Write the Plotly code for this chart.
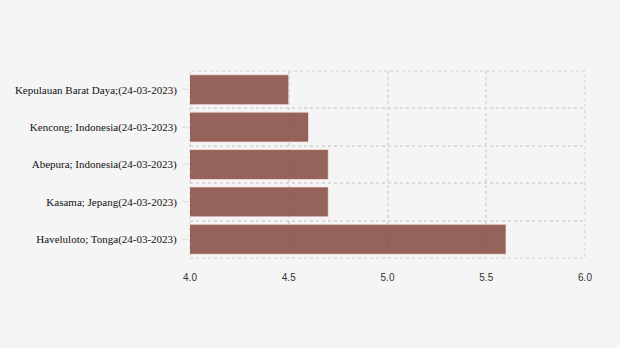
import plotly.graph_objects as go

categories = [
    "Haveluloto; Tonga(24-03-2023)",
    "Kasama; Jepang(24-03-2023)",
    "Abepura; Indonesia(24-03-2023)",
    "Kencong; Indonesia(24-03-2023)",
    "Kepulauan Barat Daya;(24-03-2023)",
]
values = [5.6, 4.7, 4.7, 4.6, 4.5]
x_ticks = [4.0, 4.5, 5.0, 5.5, 6.0]
x_tick_labels = ["4.0", "4.5", "5.0", "5.5", "6.0"]

positions = list(range(len(categories)))
boundaries = [p - 0.5 for p in positions] + [positions[-1] + 0.5]

GRID = "#dadada"

fig = go.Figure(
    go.Bar(
        x=values,
        y=positions,
        orientation="h",
        width=0.8,
        base=0,
        marker=dict(color="rgba(133,74,64,0.86)", line=dict(color="rgba(255,230,230,0.7)", width=1)),
        hoverinfo="x+text",
        text=categories,
        textposition="none",
    )
)

fig.update_layout(
    width=620,
    height=348,
    margin=dict(l=190, r=35, t=71, b=90),
    paper_bgcolor="#f5f5f5",
    plot_bgcolor="#f5f5f5",
    showlegend=False,
    bargap=0.2,
)

# dotted frame around the plotting area (edge grid lines)
fig.add_shape(
    type="rect",
    xref="x domain", yref="y domain",
    x0=0, x1=1, y0=0, y1=1,
    line=dict(color=GRID, width=1.5, dash="3px,3px"),
    layer="below",
)

fig.update_xaxes(
    range=[4.0, 6.0],
    tickvals=x_ticks,
    ticktext=x_tick_labels,
    showgrid=True,
    gridcolor=GRID,
    griddash="3px,3px",
    gridwidth=1.5,
    zeroline=False,
    showline=False,
    ticks="outside",
    ticklen=10,
    tickcolor="rgba(0,0,0,0)",
    tickfont=dict(family="Liberation Sans", size=10, color="#333333"),
)

fig.update_yaxes(
    range=[boundaries[0], boundaries[-1]],
    tickvals=positions,
    ticktext=categories,
    showgrid=False,
    zeroline=False,
    showline=False,
    ticks="outside",
    ticklen=7,
    tickcolor="#e2e2e2",
    ticklabelstandoff=3,
    tickfont=dict(family="Liberation Serif", size=11, color="#111111"),
    minor=dict(
        tickvals=boundaries,
        showgrid=True,
        gridcolor=GRID,
        griddash="3px,3px",
        gridwidth=1.5,
        ticks="",
    ),
)

fig.write_html("out.html")
